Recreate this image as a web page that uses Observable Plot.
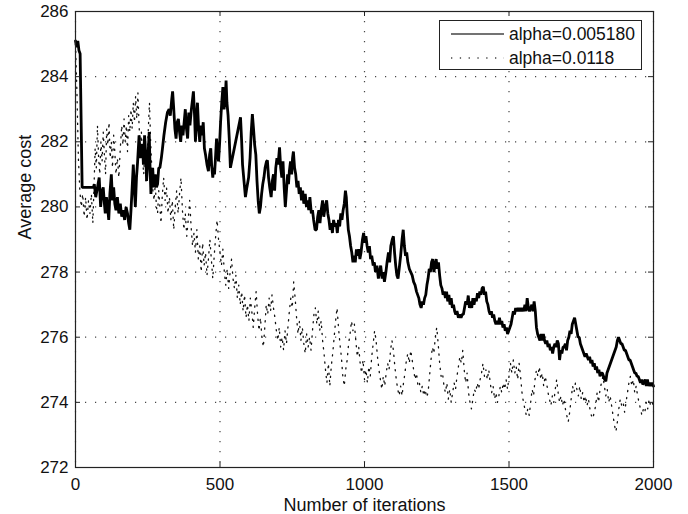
<!DOCTYPE html>
<html>
<head>
<meta charset="utf-8">
<script src="https://cdn.jsdelivr.net/npm/d3@7"></script>
<script src="https://cdn.jsdelivr.net/npm/@observablehq/plot@0.6"></script>
<style>
  body { margin: 0; background: white; }
  #wrap { position: relative; width: 688px; height: 514px; font-family: "Liberation Sans", Arial, Helvetica, sans-serif; }
  #legend { position: absolute; left: 439px; top: 20px; width: 201px; height: 48px; border: 1px solid #222; background: white; }
  #legend svg { position: absolute; left: 0; top: 0; }
  #legend .lab { position: absolute; left: 69px; font-size: 17.5px; color: #111; line-height: 20px; }
</style>
</head>
<body>
<div id="wrap"></div>
<script>
const xTicks = [0, 500, 1000, 1500, 2000];
const yTicks = [272, 274, 276, 278, 280, 282, 284, 286];
const seriesNames = ["alpha=0.005180", "alpha=0.0118"];
const xLabel = "Number of iterations";
const yLabel = "Average cost";

// alpha=0.005180 (solid)
const solidSeries = [
[0,285.1],[4,284.9],[8,285.1],[12,284.8],[16,284.7],[23,280.6],[62,280.6],[65,280.7],[70,280.3],[76,280.6],[82,280.9],[87,280.0],[92,280.5],[96,280.6],[100,280.1],[103,279.8],[107,280.3],[111,280.0],[115,279.6],[119,280.4],[124,281.0],[128,280.2],[132,280.6],[136,280.1],[140,279.9],[145,280.3],[150,279.8],[155,280.1],[160,279.7],[165,279.9],[170,279.6],[175,280.0],[180,279.8],[184,279.5],[188,279.3],[192,279.9],[195,280.4],[200,281.3],[204,280.5],[207,280.0],[211,280.9],[215,281.4],[220,282.2],[224,281.5],[228,281.9],[232,281.9],[235,281.3],[239,282.2],[243,281.6],[246,280.8],[250,281.4],[255,282.3],[258,281.2],[261,280.4],[264,280.9],[267,281.2],[271,280.6],[276,281.0],[280,280.6],[284,280.7],[288,281.2],[292,281.2],[297,281.5],[301,281.8],[306,282.2],[312,282.6],[318,282.9],[324,283.0],[328,282.8],[333,283.3],[336,283.55],[340,283.0],[344,282.4],[348,282.1],[352,282.6],[356,282.7],[360,282.3],[364,282.0],[368,282.5],[372,282.2],[376,282.6],[380,283.0],[384,282.4],[388,282.1],[392,282.9],[396,282.5],[401,283.0],[405,283.3],[408,283.55],[412,282.8],[415,282.0],[419,282.8],[422,283.2],[426,282.4],[430,282.0],[434,282.5],[438,282.2],[442,282.6],[446,281.8],[450,281.6],[455,281.3],[460,281.1],[464,281.6],[468,281.8],[471,281.3],[475,280.9],[478,281.2],[481,281.0],[485,281.6],[488,282.1],[492,281.6],[495,281.4],[499,282.0],[502,282.6],[506,283.2],[510,283.68],[514,283.0],[518,283.3],[521,283.88],[524,283.2],[528,282.8],[532,282.1],[536,281.2],[571,282.75],[575,282.0],[578,281.3],[583,280.8],[588,280.3],[593,280.6],[599,280.9],[604,281.5],[608,282.3],[612,282.85],[616,282.4],[620,281.9],[624,281.6],[628,280.8],[632,280.2],[636,279.8],[640,280.0],[644,280.4],[648,280.7],[652,280.9],[656,281.2],[661,281.4],[664,281.43],[668,280.9],[672,280.6],[677,280.3],[681,280.8],[685,281.0],[689,280.5],[693,281.2],[697,281.5],[701,281.3],[706,281.83],[710,281.2],[714,280.9],[718,281.4],[722,280.6],[726,280.0],[730,280.5],[734,281.0],[737,280.7],[740,281.1],[744,281.4],[748,281.0],[751,281.5],[754,281.7],[758,281.2],[762,281.0],[766,280.6],[770,280.8],[774,280.4],[778,280.6],[782,280.2],[786,280.5],[790,280.1],[795,280.4],[799,280.0],[803,280.2],[807,279.9],[811,280.3],[816,279.8],[820,279.9],[824,279.6],[829,279.3],[834,279.3],[838,279.7],[842,279.9],[846,279.5],[850,279.9],[855,280.2],[859,279.7],[864,280.0],[869,280.2],[873,279.8],[877,279.6],[881,279.3],[885,279.5],[889,279.2],[893,279.6],[898,279.4],[902,279.5],[906,279.2],[910,279.6],[914,279.4],[918,279.8],[922,279.6],[926,279.9],[930,280.1],[934,280.5],[937,280.3],[940,279.8],[944,279.3],[948,279.1],[952,278.8],[956,278.6],[960,278.3],[964,278.5],[968,278.3],[972,278.7],[976,278.5],[980,278.7],[984,278.4],[988,278.6],[993,279.0],[997,279.2],[1001,278.9],[1005,279.1],[1009,278.8],[1013,278.6],[1017,278.8],[1021,278.4],[1025,278.5],[1030,278.2],[1034,278.3],[1038,278.0],[1043,278.2],[1048,277.8],[1052,278.0],[1056,278.2],[1061,277.8],[1065,278.0],[1069,277.7],[1074,278.0],[1078,278.3],[1083,278.6],[1087,278.3],[1091,278.8],[1096,279.0],[1100,279.1],[1104,278.6],[1108,278.2],[1112,277.9],[1116,277.8],[1120,278.1],[1125,278.5],[1130,279.0],[1134,279.3],[1138,278.8],[1142,278.5],[1146,278.6],[1150,278.3],[1155,278.1],[1160,278.0],[1165,277.9],[1170,277.7],[1175,277.6],[1180,277.4],[1184,277.3],[1188,277.2],[1192,277.0],[1196,276.9],[1200,277.1],[1204,277.0],[1208,277.2],[1212,277.3],[1216,277.6],[1220,277.8],[1224,278.1],[1228,278.0],[1232,278.3],[1236,278.4],[1240,278.0],[1244,278.2],[1248,278.4],[1252,278.1],[1256,278.3],[1260,277.9],[1264,277.6],[1268,277.5],[1272,277.3],[1276,277.4],[1280,277.2],[1284,277.4],[1288,277.1],[1292,277.3],[1296,277.0],[1300,277.2],[1304,276.9],[1308,277.0],[1312,276.8],[1316,276.7],[1320,276.8],[1325,276.6],[1330,276.7],[1334,276.6],[1338,276.7],[1342,276.7],[1346,276.9],[1350,277.1],[1355,277.0],[1359,277.28],[1363,276.9],[1367,277.1],[1371,276.9],[1375,277.2],[1379,277.0],[1383,277.2],[1387,277.1],[1391,277.35],[1395,277.2],[1399,277.4],[1403,277.3],[1407,277.5],[1411,277.55],[1415,277.3],[1419,277.4],[1423,277.1],[1427,277.0],[1431,276.8],[1435,276.7],[1439,276.8],[1443,276.6],[1447,276.7],[1451,276.5],[1455,276.4],[1459,276.5],[1463,276.4],[1467,276.6],[1471,276.4],[1475,276.5],[1479,276.3],[1483,276.4],[1487,276.2],[1491,276.3],[1495,276.1],[1499,276.2],[1503,276.3],[1507,276.4],[1511,276.6],[1515,276.8],[1519,276.7],[1523,276.9],[1527,276.8],[1531,276.9],[1535,276.8],[1539,276.9],[1543,276.8],[1547,276.9],[1551,276.8],[1555,277.0],[1559,276.8],[1563,277.2],[1567,276.9],[1571,276.8],[1575,276.9],[1579,277.0],[1583,276.8],[1587,277.1],[1591,276.8],[1595,276.3],[1599,276.1],[1603,276.0],[1607,275.9],[1611,276.1],[1615,275.9],[1619,276.1],[1623,275.9],[1627,275.8],[1631,275.9],[1635,275.7],[1639,275.8],[1643,275.6],[1647,275.7],[1651,275.5],[1655,275.7],[1659,275.8],[1663,275.7],[1667,275.9],[1671,275.8],[1675,275.3],[1679,275.6],[1683,275.5],[1687,275.7],[1691,275.7],[1695,275.8],[1699,275.6],[1703,275.9],[1707,276.0],[1711,276.2],[1715,276.1],[1719,276.4],[1723,276.5],[1727,276.6],[1731,276.4],[1735,276.2],[1739,276.0],[1743,276.0],[1747,275.8],[1751,275.7],[1755,275.6],[1759,275.5],[1763,275.4],[1767,275.5],[1771,275.4],[1775,275.3],[1779,275.4],[1783,275.2],[1787,275.3],[1791,275.1],[1795,275.2],[1799,275.0],[1803,275.1],[1807,274.9],[1811,275.0],[1815,274.8],[1819,274.9],[1823,274.9],[1827,274.8],[1831,274.7],[1835,274.65],[1839,274.9],[1843,275.0],[1847,275.1],[1851,275.2],[1855,275.3],[1859,275.4],[1863,275.5],[1867,275.6],[1871,275.7],[1875,275.9],[1879,276.0],[1883,275.9],[1887,275.8],[1891,275.8],[1895,275.7],[1899,275.6],[1903,275.6],[1907,275.5],[1911,275.4],[1915,275.3],[1919,275.3],[1923,275.2],[1927,275.1],[1931,275.0],[1935,274.9],[1939,274.9],[1943,274.8],[1947,274.8],[1951,274.7],[1955,274.6],[1959,274.7],[1963,274.55],[1967,274.6],[1971,274.7],[1975,274.5],[1979,274.7],[1983,274.5],[1987,274.6],[1991,274.5],[1995,274.6],[2000,274.5]
];

// alpha=0.0118 (dotted)
const dottedSeries = [
[0,285.0],[5,283.5],[10,281.5],[15,280.5],[20,280.0],[25,280.4],[30,279.7],[35,280.3],[40,279.6],[45,280.2],[50,279.8],[55,280.4],[60,279.5],[64,280.6],[68,281.8],[72,281.2],[76,282.5],[80,281.5],[84,281.0],[88,282.0],[92,281.4],[96,282.3],[100,281.6],[104,281.0],[108,282.4],[112,281.9],[116,282.6],[120,281.5],[124,282.0],[128,281.2],[132,282.2],[136,281.7],[140,281.0],[145,281.5],[150,280.9],[155,281.8],[160,282.5],[164,281.9],[168,282.7],[172,282.0],[176,282.5],[180,281.7],[184,282.8],[188,282.3],[192,283.0],[196,282.4],[200,283.2],[204,282.6],[208,283.4],[212,282.7],[216,283.5],[220,282.5],[224,281.8],[228,282.3],[232,281.5],[236,281.0],[240,281.8],[244,280.8],[248,281.5],[252,282.4],[256,283.2],[260,282.0],[264,281.2],[268,280.5],[272,280.2],[276,280.7],[280,280.0],[284,279.8],[288,280.5],[292,280.0],[296,279.5],[300,280.3],[305,280.9],[310,280.2],[315,280.6],[320,279.8],[325,280.3],[330,279.6],[335,280.2],[340,279.3],[345,280.0],[350,280.5],[355,279.8],[360,280.4],[365,280.9],[370,279.9],[375,279.3],[380,279.8],[385,279.1],[390,279.6],[395,280.2],[400,279.4],[405,278.8],[410,279.2],[415,278.6],[420,279.3],[425,278.4],[430,278.8],[435,278.0],[440,278.9],[445,278.2],[450,278.6],[455,277.9],[460,278.4],[465,279.0],[470,278.4],[475,277.8],[480,278.5],[485,279.1],[490,279.6],[495,279.0],[500,278.6],[505,278.2],[510,278.7],[515,278.0],[520,277.6],[525,278.1],[530,277.5],[535,278.0],[540,278.4],[545,277.8],[550,277.5],[555,277.9],[560,277.2],[565,277.6],[570,277.0],[575,277.4],[580,276.8],[585,277.3],[590,276.6],[595,277.0],[600,276.5],[605,277.2],[610,276.8],[615,276.3],[620,276.9],[625,277.4],[630,276.7],[635,276.2],[640,276.6],[645,276.0],[650,275.7],[655,276.3],[660,277.0],[665,276.7],[670,277.2],[675,276.8],[680,277.3],[685,276.9],[690,276.6],[695,276.2],[700,275.9],[705,276.3],[710,275.7],[715,276.0],[720,275.6],[725,276.2],[730,275.8],[735,276.3],[740,276.8],[745,277.2],[750,276.9],[755,277.7],[760,277.2],[765,276.6],[770,276.1],[775,276.5],[780,275.9],[785,276.3],[790,275.8],[795,275.5],[800,276.1],[805,275.7],[810,276.0],[815,275.6],[820,276.2],[825,276.7],[830,276.9],[835,276.4],[840,276.8],[845,276.2],[850,276.5],[855,275.9],[860,275.5],[865,275.0],[870,274.6],[875,275.2],[880,274.5],[885,275.1],[890,275.5],[895,276.0],[900,276.5],[905,276.9],[910,276.3],[915,275.8],[920,275.4],[925,274.8],[930,274.5],[935,275.0],[940,275.3],[945,275.8],[950,276.1],[955,276.5],[960,276.2],[965,276.4],[970,275.9],[975,275.4],[980,275.7],[985,275.2],[990,274.9],[995,275.3],[1000,274.7],[1005,275.0],[1010,274.6],[1015,275.1],[1020,274.8],[1025,275.4],[1030,275.8],[1035,276.2],[1040,275.9],[1045,275.4],[1050,275.0],[1055,274.7],[1060,274.4],[1065,274.8],[1070,274.5],[1075,274.9],[1080,275.2],[1085,275.0],[1090,275.6],[1095,275.9],[1100,275.6],[1105,275.1],[1110,274.7],[1115,274.4],[1120,274.2],[1125,274.5],[1130,274.2],[1135,274.6],[1140,274.9],[1145,275.3],[1150,275.5],[1155,275.2],[1160,275.6],[1165,275.3],[1170,275.0],[1175,274.7],[1180,274.9],[1185,274.5],[1190,274.6],[1195,274.3],[1200,274.5],[1205,274.2],[1210,274.4],[1215,274.15],[1220,274.3],[1225,274.8],[1230,275.3],[1235,275.7],[1240,275.5],[1245,276.0],[1250,276.3],[1255,275.8],[1260,275.2],[1265,274.8],[1270,274.9],[1275,274.5],[1280,274.3],[1285,274.6],[1290,274.1],[1295,274.4],[1300,274.0],[1305,274.3],[1310,274.6],[1315,274.4],[1320,274.8],[1325,275.1],[1330,275.4],[1335,275.2],[1340,275.6],[1345,275.0],[1350,274.6],[1355,274.9],[1360,274.3],[1365,274.0],[1370,273.8],[1375,274.1],[1380,274.4],[1385,274.3],[1390,274.6],[1395,274.4],[1400,274.7],[1405,274.9],[1410,275.2],[1415,274.8],[1420,275.0],[1425,274.7],[1430,275.0],[1435,274.6],[1440,274.3],[1445,274.5],[1450,274.1],[1455,274.3],[1460,274.0],[1465,274.2],[1470,274.5],[1475,274.3],[1480,274.6],[1485,274.4],[1490,274.7],[1495,274.4],[1500,274.8],[1505,275.2],[1510,274.9],[1515,275.3],[1520,274.9],[1525,275.1],[1530,274.7],[1535,275.2],[1540,274.8],[1545,274.3],[1550,274.0],[1555,273.8],[1560,273.6],[1565,273.8],[1570,273.6],[1575,274.0],[1580,274.4],[1585,274.2],[1590,274.7],[1595,275.0],[1600,274.8],[1605,275.1],[1610,274.7],[1615,274.9],[1620,274.5],[1625,274.8],[1630,274.6],[1635,274.3],[1640,274.1],[1645,273.9],[1650,274.2],[1655,274.0],[1660,274.4],[1665,274.7],[1670,274.3],[1675,274.0],[1680,274.2],[1685,273.9],[1690,274.1],[1695,273.8],[1700,273.6],[1705,273.4],[1710,273.7],[1715,274.1],[1720,274.5],[1725,274.3],[1730,274.6],[1735,274.4],[1740,274.2],[1745,274.5],[1750,274.1],[1755,274.3],[1760,274.0],[1765,274.2],[1770,273.9],[1775,274.1],[1780,273.8],[1785,273.6],[1790,273.5],[1795,273.7],[1800,273.9],[1805,274.3],[1810,274.0],[1815,274.4],[1820,274.6],[1825,274.8],[1830,274.5],[1835,274.2],[1840,274.4],[1845,274.0],[1850,274.2],[1855,273.9],[1860,273.6],[1865,273.3],[1870,273.1],[1875,273.4],[1880,273.8],[1885,274.1],[1890,273.9],[1895,274.0],[1900,273.7],[1905,274.0],[1910,274.3],[1915,274.6],[1920,274.8],[1925,274.5],[1930,274.7],[1935,274.3],[1940,274.5],[1945,274.2],[1950,274.0],[1955,273.8],[1960,273.6],[1965,273.8],[1970,273.7],[1975,274.0],[1980,273.8],[1985,274.1],[1990,273.9],[1995,274.0],[2000,273.9]
];

const solid = solidSeries.map(([x, y]) => ({x, y}));
const dotted = dottedSeries.map(([x, y]) => ({x, y}));

const W = 688, H = 514, mL = 75, mR = 35, mT = 11, mB = 47;
const fw = W - mL - mR, fh = H - mT - mB, tl = 5;
const fmt = d => String(d);

const chart = Plot.plot({
  width: W, height: H,
  marginLeft: mL, marginRight: mR, marginTop: mT, marginBottom: mB,
  x: {domain: [0, 2000], label: null},
  y: {domain: [272, 286], label: null},
  style: {fontFamily: '"Liberation Sans", Arial, Helvetica, sans-serif', fontSize: "17px", background: "white", color: "#111", overflow: "visible"},
  marks: [
    Plot.gridX(xTicks, {stroke: "#333", strokeOpacity: 0.9, strokeWidth: 1.2, strokeDasharray: "1.2,8.8"}),
    Plot.gridY(yTicks, {stroke: "#333", strokeOpacity: 0.9, strokeWidth: 1.2, strokeDasharray: "1.2,8.8"}),
    Plot.line(dotted, {x: "x", y: "y", stroke: "#111", strokeWidth: 1.3, strokeDasharray: "1.2,6"}),
    Plot.line(solid, {x: "x", y: "y", stroke: "#000", strokeWidth: 2.8, strokeLinejoin: "miter"}),
    Plot.tickX(xTicks, {x: d => d, insetTop: fh - tl, stroke: "#222"}),
    Plot.tickX(xTicks, {x: d => d, insetBottom: fh - tl, stroke: "#222"}),
    Plot.tickY(yTicks, {y: d => d, insetRight: fw - tl, stroke: "#222"}),
    Plot.tickY(yTicks, {y: d => d, insetLeft: fw - tl, stroke: "#222"}),
    Plot.frame({stroke: "#222", strokeWidth: 1.2}),
    Plot.axisX(xTicks, {tickSize: 0, tickPadding: 10, label: null, tickFormat: fmt}),
    Plot.axisY(yTicks, {tickSize: 0, tickPadding: 7, label: null, tickFormat: fmt}),
    Plot.text([xLabel], {frameAnchor: "bottom", dy: 43, fontSize: 18, fill: "#111"}),
    Plot.text([yLabel], {frameAnchor: "left", dx: -50, rotate: -90, fontSize: 18, fill: "#111"})
  ]
});

const wrap = document.getElementById("wrap");
wrap.appendChild(chart);

const legend = document.createElement("div");
legend.id = "legend";
legend.innerHTML = `
  <svg width="201" height="48">
    <line x1="11" x2="64" y1="13" y2="13" stroke="#444" stroke-width="1.4"></line>
    <line x1="11" x2="64" y1="37" y2="37" stroke="#444" stroke-width="1.3" stroke-dasharray="1.3,7.5"></line>
  </svg>
  <div class="lab" style="top:3px">${seriesNames[0]}</div>
  <div class="lab" style="top:27px">${seriesNames[1]}</div>`;
wrap.appendChild(legend);
</script>
</body>
</html>
